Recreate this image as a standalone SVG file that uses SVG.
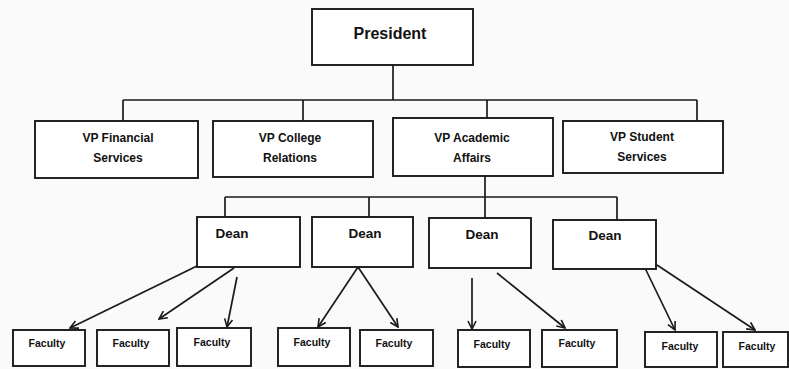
<svg xmlns="http://www.w3.org/2000/svg" width="789" height="369" viewBox="0 0 789 369">
<style>
.box{fill:#ffffff;stroke:#1a1a1a;stroke-width:1.9}
.ln{fill:none;stroke:#1a1a1a;stroke-width:1.7}
.t{font-family:"Liberation Sans",Arial,sans-serif;font-weight:bold;fill:#111;text-anchor:middle}
.p{font-size:16px}
.v{font-size:12px}
.d{font-size:13.5px}
.f{font-size:10.5px}
</style>
<defs>
<marker id="ah" viewBox="0 0 10 10" refX="9" refY="5" markerWidth="10" markerHeight="10" markerUnits="userSpaceOnUse" orient="auto">
<polyline points="1,1 9,5 1,9" fill="none" stroke="#1a1a1a" stroke-width="1.6"/>
</marker>
</defs>
<rect width="789" height="369" fill="#fafafa"/>
<g id="connectors">
<path class="ln" d="M393,65 V100 M123,100 H697 M123,100 V121 M303,100 V121 M487,100 V118 M697,100 V121"/>
<path class="ln" d="M485,176 V218 M225,197 H617 M225,197 V217 M369,197 V217 M617,197 V220"/>
<line class="ln" x1="197" y1="266" x2="70" y2="328" marker-end="url(#ah)"/>
<line class="ln" x1="234" y1="268" x2="159" y2="319" marker-end="url(#ah)"/>
<line class="ln" x1="237" y1="277" x2="227" y2="327" marker-end="url(#ah)"/>
<line class="ln" x1="358" y1="267" x2="318" y2="327" marker-end="url(#ah)"/>
<line class="ln" x1="358" y1="267" x2="398" y2="327" marker-end="url(#ah)"/>
<line class="ln" x1="472" y1="278" x2="472" y2="329" marker-end="url(#ah)"/>
<line class="ln" x1="497" y1="273" x2="565" y2="328" marker-end="url(#ah)"/>
<line class="ln" x1="645" y1="268" x2="675" y2="330" marker-end="url(#ah)"/>
<line class="ln" x1="657" y1="265" x2="755" y2="330" marker-end="url(#ah)"/>
</g>
<g id="president"><rect class="box" x="312" y="9" width="161" height="56"/><text class="t p" x="390" y="39">President</text></g>
<g id="vp-financial"><rect class="box" x="35" y="121" width="163" height="57"/><text class="t v" x="118" y="142">VP Financial</text><text class="t v" x="118" y="162">Services</text></g>
<g id="vp-college"><rect class="box" x="213" y="121" width="160" height="56"/><text class="t v" x="290" y="142">VP College</text><text class="t v" x="290" y="162">Relations</text></g>
<g id="vp-academic"><rect class="box" x="393" y="118" width="160" height="58"/><text class="t v" x="472" y="142">VP Academic</text><text class="t v" x="472" y="162">Affairs</text></g>
<g id="vp-student"><rect class="box" x="563" y="121" width="160" height="52"/><text class="t v" x="642" y="141">VP Student</text><text class="t v" x="642" y="161">Services</text></g>
<g id="dean1"><rect class="box" x="197" y="217" width="103" height="50"/><text class="t d" x="232" y="238">Dean</text></g>
<g id="dean2"><rect class="box" x="312" y="217" width="101" height="50"/><text class="t d" x="365" y="238">Dean</text></g>
<g id="dean3"><rect class="box" x="429" y="218" width="102" height="50"/><text class="t d" x="482" y="239">Dean</text></g>
<g id="dean4"><rect class="box" x="553" y="220" width="103" height="49"/><text class="t d" x="605" y="240">Dean</text></g>
<g id="faculty1"><rect class="box" x="13" y="330" width="72" height="36"/><text class="t f" x="47" y="347">Faculty</text></g>
<g id="faculty2"><rect class="box" x="97" y="330" width="72" height="36"/><text class="t f" x="131" y="347">Faculty</text></g>
<g id="faculty3"><rect class="box" x="177" y="328" width="74" height="38"/><text class="t f" x="212" y="346">Faculty</text></g>
<g id="faculty4"><rect class="box" x="278" y="328" width="72" height="38"/><text class="t f" x="312" y="346">Faculty</text></g>
<g id="faculty5"><rect class="box" x="360" y="330" width="73" height="36"/><text class="t f" x="394" y="347">Faculty</text></g>
<g id="faculty6"><rect class="box" x="458" y="330" width="72" height="37"/><text class="t f" x="492" y="348">Faculty</text></g>
<g id="faculty7"><rect class="box" x="542" y="330" width="75" height="37"/><text class="t f" x="577" y="347">Faculty</text></g>
<g id="faculty8"><rect class="box" x="645" y="332" width="72" height="35"/><text class="t f" x="680" y="350">Faculty</text></g>
<g id="faculty9"><rect class="box" x="723" y="332" width="65" height="35"/><text class="t f" x="757" y="350">Faculty</text></g>
</svg>
